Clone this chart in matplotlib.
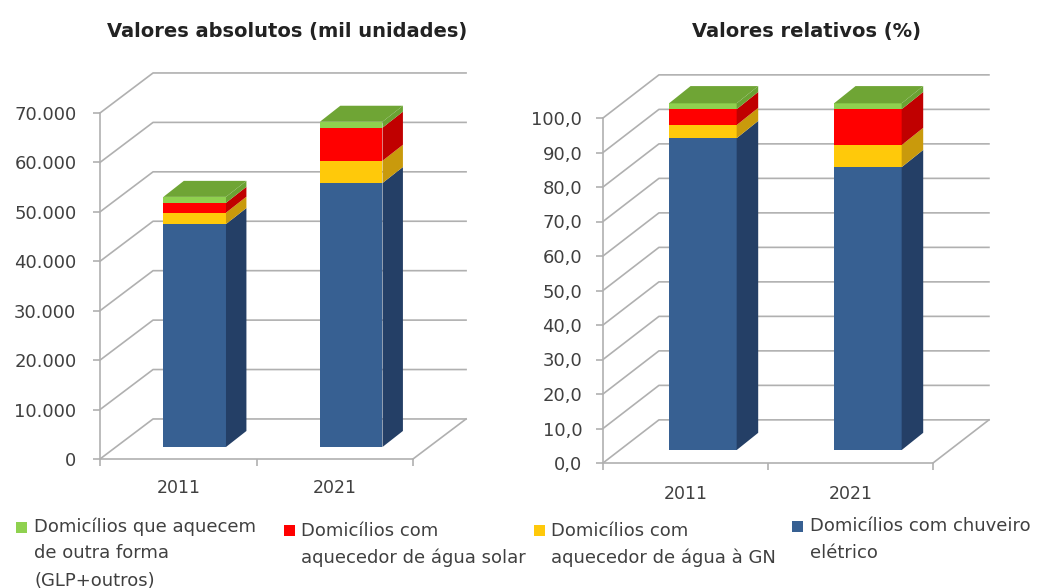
import matplotlib
matplotlib.use('Agg')
import matplotlib.pyplot as plt
import numpy as np

W, H = 1039, 588

years = ['2011', '2021']

# mil unidades
abs_chuveiro = [45100, 53400]
abs_gn = [2300, 4500]
abs_solar = [2000, 6700]
abs_outros = [1200, 1200]

# %
rel_chuveiro = [90.4, 82.0]
rel_gn = [3.8, 6.4]
rel_solar = [4.6, 10.4]
rel_outros = [1.7, 1.7]

abs_ticks = [0, 10000, 20000, 30000, 40000, 50000, 60000, 70000]
abs_labels = ['0', '10.000', '20.000', '30.000', '40.000', '50.000', '60.000', '70.000']
rel_ticks = [0, 10, 20, 30, 40, 50, 60, 70, 80, 90, 100]
rel_labels = ['0,0', '10,0', '20,0', '30,0', '40,0', '50,0', '60,0', '70,0', '80,0', '90,0', '100,0']

front = ['#376092', '#FFC90A', '#FF0000', '#8FD14F']
side = ['#243F66', '#C99A0C', '#C00000', '#6AA333']
top_color = '#6FA535'
grid_color = '#B0B0B0'
text_color = '#404040'

FONT = 'DejaVu Sans'
plt.rcParams['font.family'] = [FONT]

fig = plt.figure(figsize=(W / 100, H / 100), dpi=100)


def add_axes(x0, x1, y_bottom, y_top):
    return fig.add_axes([x0 / W, 1 - y_bottom / H, (x1 - x0) / W, (y_bottom - y_top) / H])


def draw_panel(ax, series, ticks, labels, ymax, wall_dy, bar_width, title, title_x, year_gap, pad):
    wall_dx = 0.339
    ax.set_xlim(0, 2)
    ax.set_ylim(0, ymax)
    ax.patch.set_alpha(0)

    for s in ['top', 'right']:
        ax.spines[s].set_visible(False)
    for s in ['left', 'bottom']:
        ax.spines[s].set_color(grid_color)
        ax.spines[s].set_linewidth(1.2)

    ax.set_yticks(ticks)
    ax.set_yticklabels(labels, fontsize=13, color=text_color, family=FONT)
    ax.set_xticks([0, 1, 2])
    ax.set_xticklabels([])
    ax.tick_params(axis='both', color=grid_color, width=1.2, length=5, pad=pad)

    # back wall and floor
    for v in ticks:
        ax.plot([0, wall_dx, 2 + wall_dx], [v, v + wall_dy, v + wall_dy],
                color=grid_color, lw=1.2, clip_on=False, zorder=1)
    ax.plot([2, 2 + wall_dx], [0, wall_dy], color=grid_color, lw=1.2, clip_on=False, zorder=1)

    # stacked bars, sitting a bit behind the front edge
    shift_x = wall_dx * 0.31
    shift_y = wall_dy * 0.3
    depth_x = wall_dx * 0.385
    depth_y = wall_dy * 0.4
    centers = np.array([0.5, 1.5]) + shift_x

    bottom = np.zeros(2)
    for vals, c_front, c_side in zip(series, front, side):
        vals = np.array(vals, dtype=float)
        ax.bar(centers, vals, bar_width, bottom=bottom + shift_y, color=c_front,
               clip_on=False, zorder=3)
        for cx, b, v in zip(centers, bottom, vals):
            xr = cx + bar_width / 2
            y0 = b + shift_y
            ax.fill([xr, xr + depth_x, xr + depth_x, xr],
                    [y0, y0 + depth_y, y0 + v + depth_y, y0 + v],
                    color=c_side, lw=0, clip_on=False, zorder=3)
        bottom = bottom + vals

    for cx, b in zip(centers, bottom):
        xl = cx - bar_width / 2
        xr = cx + bar_width / 2
        y0 = b + shift_y
        ax.fill([xl, xr, xr + depth_x, xl + depth_x],
                [y0, y0, y0 + depth_y, y0 + depth_y],
                color=top_color, lw=0, clip_on=False, zorder=3)

    for i, year in enumerate(years):
        ax.annotate(year, xy=(i + 0.5, 0), xycoords=ax.get_xaxis_transform(),
                    xytext=(0, -year_gap), textcoords='offset pixels',
                    ha='center', va='center', fontsize=12.5, color=text_color, family=FONT)

    fig.text(title_x / W, 1 - 31 / H, title, ha='center', va='center', fontsize=14,
             color='#222222', fontweight='bold', family=FONT)


ax1 = add_axes(100, 413, 459, 113)
draw_panel(ax1, [abs_chuveiro, abs_gn, abs_solar, abs_outros], abs_ticks, abs_labels,
           70000, 8100, 0.40, 'Valores absolutos (mil unidades)', 287, 29, 12)

ax2 = add_axes(603, 933, 463, 118)
draw_panel(ax2, [rel_chuveiro, rel_gn, rel_solar, rel_outros], rel_ticks, rel_labels,
           100, 12.5, 0.41, 'Valores relativos (%)', 807, 31, 10)

# legend, placed by hand like in the original
legend_items = [
    (16, 527, 34, ['Domicílios que aquecem', 'de outra forma', '(GLP+outros)'], [527, 553, 581], front[3]),
    (284, 530, 301, ['Domicílios com', 'aquecedor de água solar'], [531, 558], front[2]),
    (534, 530, 551, ['Domicílios com', 'aquecedor de água à GN'], [531, 558], front[1]),
    (792, 526, 810, ['Domicílios com chuveiro', 'elétrico'], [526, 553], front[0]),
]
for box_x, box_y, text_x, lines, line_ys, color in legend_items:
    fig.patches.append(plt.Rectangle((box_x / W, 1 - (box_y + 5.5) / H), 11 / W, 11 / H,
                                     transform=fig.transFigure, facecolor=color, edgecolor='none'))
    for line, y in zip(lines, line_ys):
        fig.text(text_x / W, 1 - y / H, line, ha='left', va='center', fontsize=13,
                 color=text_color, family=FONT)

fig.savefig('out.png', dpi=100)
